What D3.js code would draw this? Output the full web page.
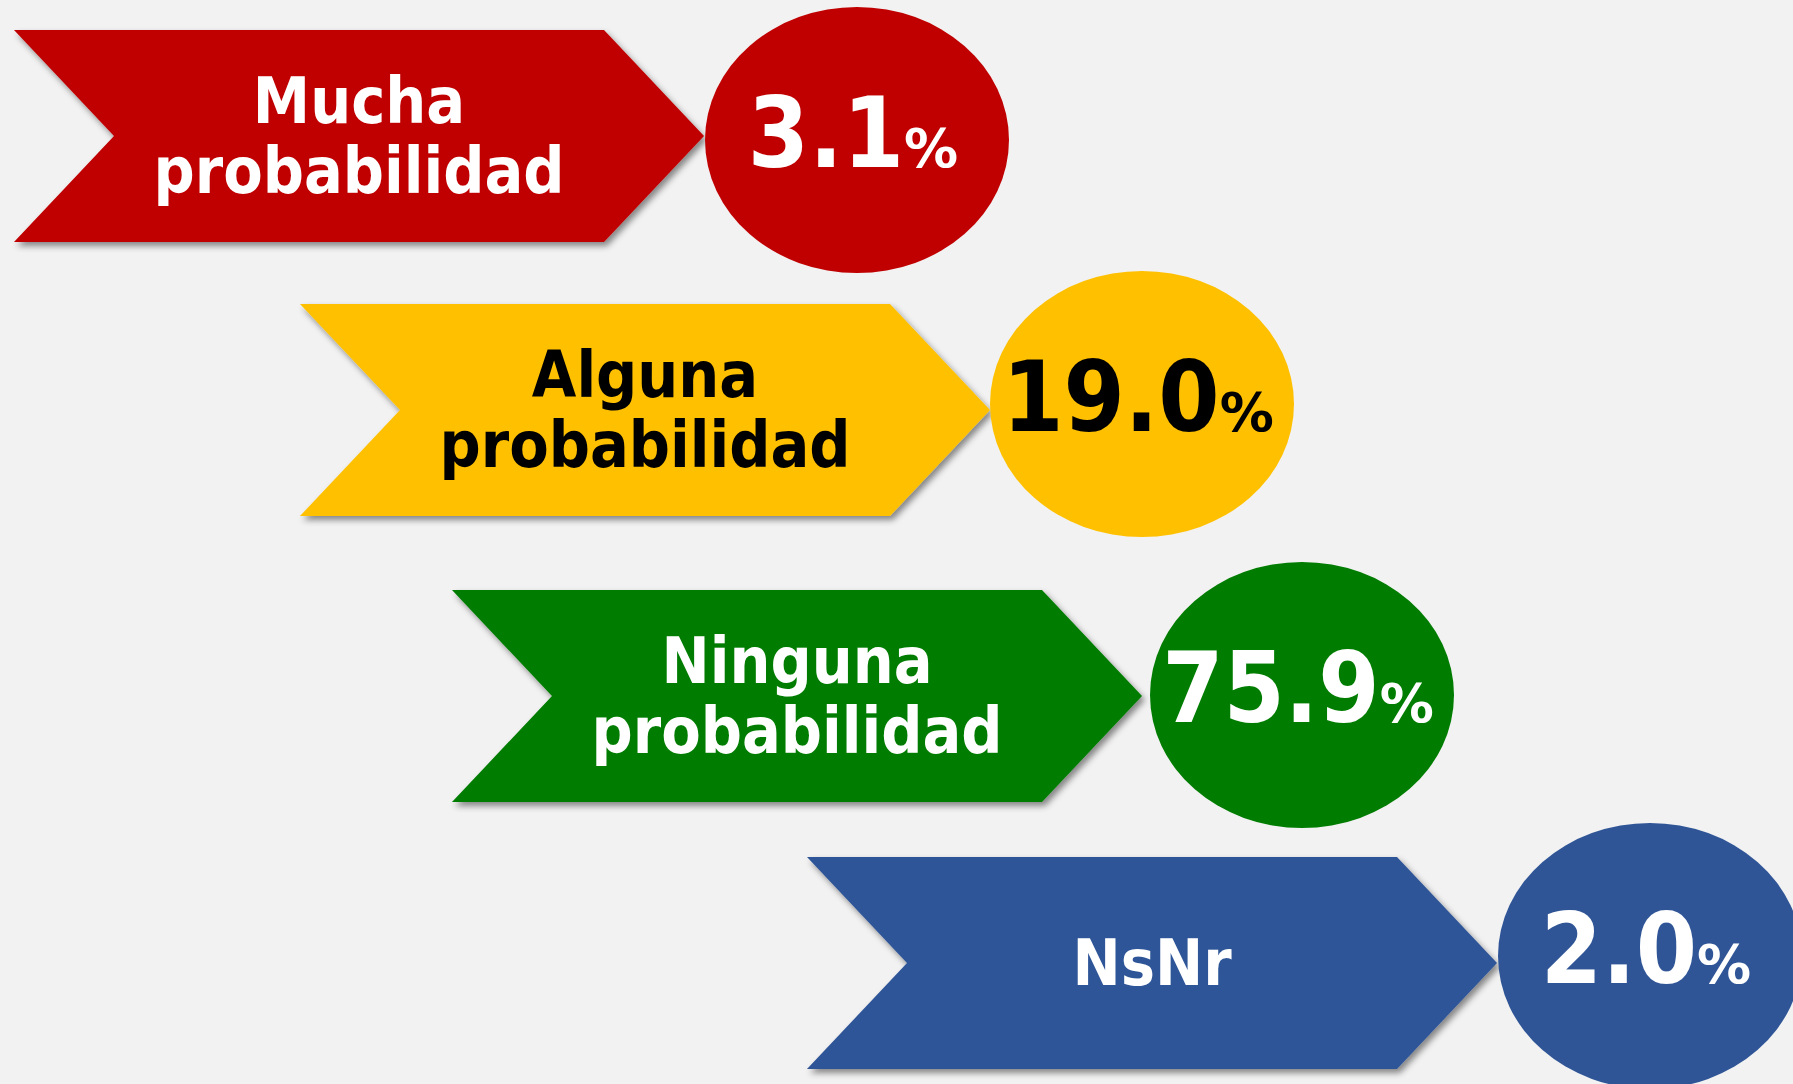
<!DOCTYPE html>
<html>
<head>
<meta charset="utf-8">
<script src="https://cdn.jsdelivr.net/npm/d3@7"></script>
<style>
  html, body { margin: 0; padding: 0; background: #f2f2f2; }
  svg { display: block; }
</style>
</head>
<body>
<div id="chart"></div>
<script>
// data
const categories = ['Mucha', 'Alguna', 'Ninguna', 'NsNr'];
const labelLines = [
  ['Mucha', 'probabilidad'],
  ['Alguna', 'probabilidad'],
  ['Ninguna', 'probabilidad'],
  ['NsNr'],
];
const values = [3.1, 19.0, 75.9, 2.0];
const fills = ['#c00000', '#ffc000', '#007d00', '#2f5597'];
const textColors = ['#ffffff', '#000000', '#ffffff', '#ffffff'];

const width = 1793,
  height = 1084;

// chevron shape
const bodyW = 590,
  tipD = 100,
  bodyH = 212,
  rx = 152,
  ry = 133;

const fontFamily = '"DejaVu Sans Condensed", "DejaVu Sans", sans-serif';

d3.select('#chart').html('');

const svg = d3
  .select('#chart')
  .append('svg')
  .attr('width', width)
  .attr('height', height)
  .style('background', '#f2f2f2');

const defs = svg.append('defs');
const shadow = defs
  .append('filter')
  .attr('id', 'shadow')
  .attr('x', '-10%')
  .attr('y', '-10%')
  .attr('width', '130%')
  .attr('height', '130%');
shadow
  .append('feDropShadow')
  .attr('dx', 3)
  .attr('dy', 4)
  .attr('stdDeviation', 3)
  .attr('flood-color', '#000')
  .attr('flood-opacity', 0.45);

// row layout scales
const xLeft = d3.scaleOrdinal().domain(categories).range([14, 300, 452, 807]);
const yMid = d3.scaleOrdinal().domain(categories).range([136, 410, 696, 963]);
// bubble centres
const bx = d3.scaleOrdinal().domain(categories).range([857, 1142, 1302, 1650]);
const by = d3.scaleOrdinal().domain(categories).range([140, 404, 695, 956]);

const rows = categories.map((c, i) => ({
  key: c,
  lines: labelLines[i],
  value: values[i],
  fill: fills[i],
  text: textColors[i],
}));

const chevron = d => {
  const x0 = xLeft(d.key),
    y0 = yMid(d.key) - bodyH / 2;
  return d3.line()([
    [x0, y0],
    [x0 + bodyW, y0],
    [x0 + bodyW + tipD, y0 + bodyH / 2],
    [x0 + bodyW, y0 + bodyH],
    [x0, y0 + bodyH],
    [x0 + tipD, y0 + bodyH / 2],
  ]) + 'Z';
};

const g = svg
  .selectAll('.row')
  .data(rows)
  .enter()
  .append('g')
  .attr('class', 'row');

g.append('path')
  .attr('d', chevron)
  .attr('fill', d => d.fill)
  .attr('filter', 'url(#shadow)');

g.append('ellipse')
  .attr('cx', d => bx(d.key))
  .attr('cy', d => by(d.key))
  .attr('rx', rx)
  .attr('ry', ry)
  .attr('fill', d => d.fill);

// label inside chevron
g.append('text')
  .attr('text-anchor', 'middle')
  .attr('font-family', fontFamily)
  .attr('font-weight', 'bold')
  .attr('font-size', 64)
  .attr('fill', d => d.text)
  .each(function (d) {
    const t = d3.select(this);
    const cx = xLeft(d.key) + (bodyW + tipD) / 2;
    const mid = yMid(d.key);
    const base = d.lines.length > 1 ? [mid - 13, mid + 57] : [mid + 22];
    d.lines.forEach((line, j) => {
      t.append('tspan').attr('x', cx).attr('y', base[j]).text(line);
    });
  });

// percentage in ellipse
const pct = g
  .append('text')
  .attr('x', d => bx(d.key) - 4)
  .attr('y', d => by(d.key) + 27)
  .attr('text-anchor', 'middle')
  .attr('font-family', fontFamily)
  .attr('font-weight', 'bold')
  .attr('fill', d => d.text);
pct
  .append('tspan')
  .attr('font-size', 98)
  .text(d => d3.format('.1f')(d.value));
pct
  .append('tspan')
  .attr('font-family', '"DejaVu Sans", sans-serif')
  .attr('font-size', 54)
  .text('%');
</script>
</body>
</html>
